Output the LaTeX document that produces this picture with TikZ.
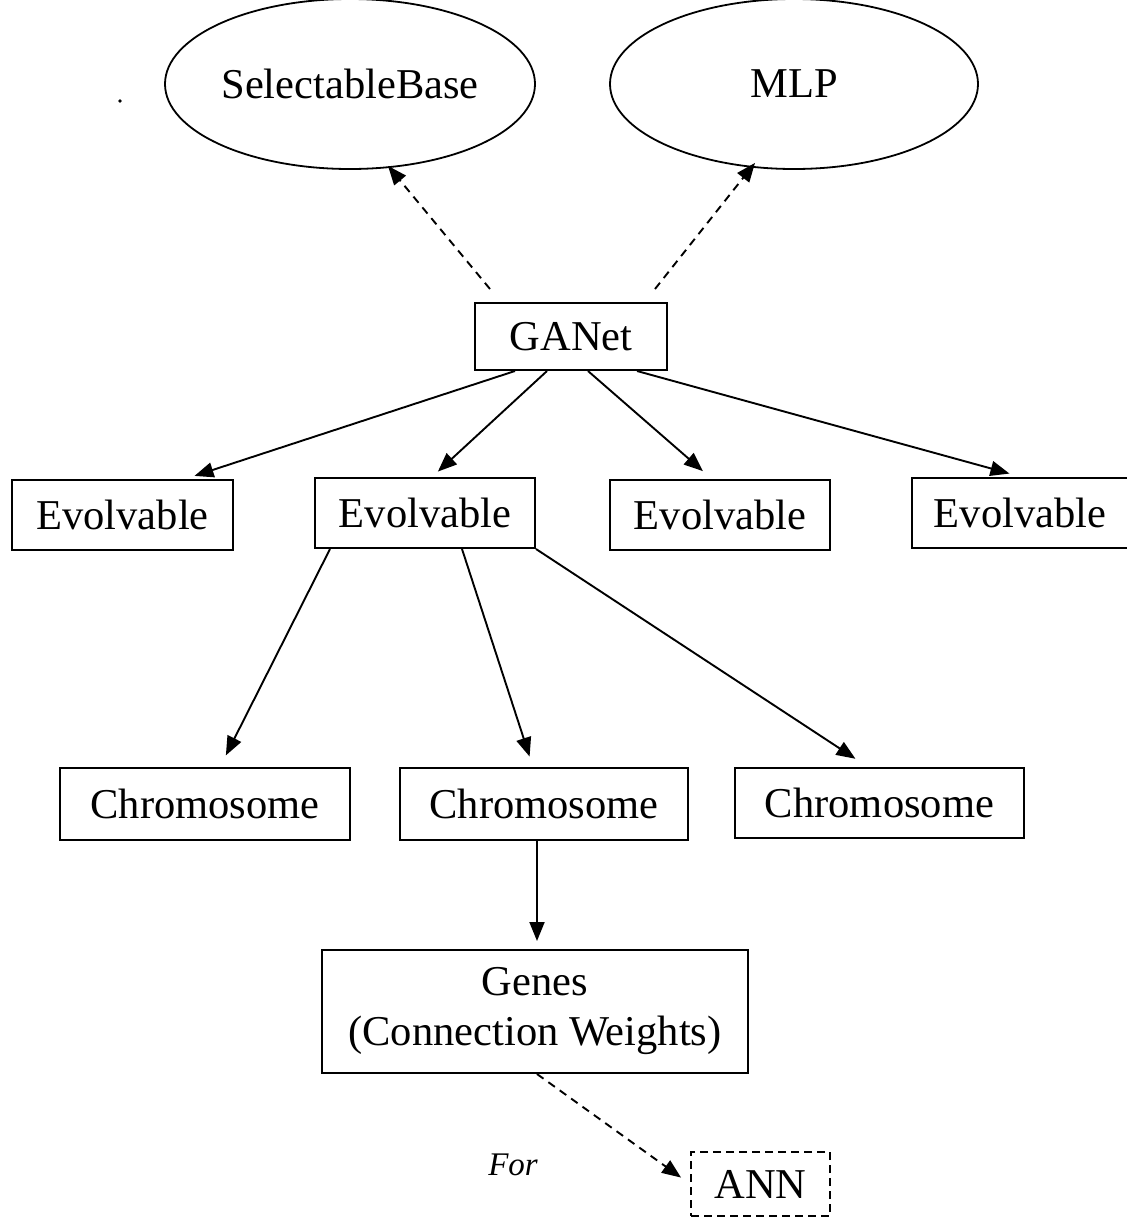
\documentclass[tikz,border=0pt]{standalone}
\usepackage{fontspec}
\setmainfont{Liberation Serif}
\usetikzlibrary{shapes.geometric,arrows.meta}
\begin{document}
\begin{tikzpicture}[x=1pt,y=-1pt,
  every node/.style={font=\fontsize{42.5}{50}\selectfont, inner sep=0pt},
  cls/.style={draw, line width=2pt, rectangle},
  oval/.style={draw, line width=1.8pt, ellipse},
  arr/.style={line width=1.9pt, -{Triangle[length=19pt,width=15pt]}},
  darr/.style={arr, dash pattern=on 8pt off 6pt},
]
\useasboundingbox (0,0) rectangle (1127,1219);

% base classes
\node[oval, minimum width=370, minimum height=170] (sb)  at (350,84) {SelectableBase};
\node[oval, minimum width=368, minimum height=170] (mlp) at (794,84) {MLP};
\fill (120,101) circle (1.8pt);

% network and its evolvables
\node[cls, minimum width=192, minimum height=67] (g) at (571,336.5) {GANet};
\node[cls, minimum width=221, minimum height=70] (e1) at (122.5,515) {Evolvable};
\node[cls, minimum width=220, minimum height=70] (e2) at (425,513) {Evolvable};
\node[cls, minimum width=220, minimum height=70] (e3) at (720,515) {Evolvable};
\node[cls, minimum width=216, minimum height=70] (e4) at (1020,513) {Evolvable};

% chromosomes
\node[cls, minimum width=290, minimum height=72] (c1) at (205,804) {Chromosome};
\node[cls, minimum width=288, minimum height=72] (c2) at (544,804) {Chromosome};
\node[cls, minimum width=289, minimum height=70] (c3) at (879.5,803) {Chromosome};

% genes and target
\node[cls, minimum width=426, minimum height=123, align=center] (gn) at (535,1011.5) {Genes\\(Connection Weights)};
\node[cls, dash pattern=on 8pt off 5pt, minimum width=139, minimum height=64] (ann) at (760.5,1184) {ANN};
\node[font=\fontsize{33}{38}\selectfont\itshape] (for) at (513,1165) {For};

% inheritance
\draw[darr] ([xshift=-81pt,yshift=13pt]g.north) -- ([xshift=38pt,yshift=4pt]sb.south);
\draw[darr] ([xshift=84pt,yshift=13pt]g.north) -- ([xshift=-39pt,yshift=7pt]mlp.south);

% composition
\draw[arr, shorten >=10pt] ([xshift=-56pt]g.south) -- ([xshift=62.5pt]e1.north);
\draw[arr, shorten >=8pt]  ([xshift=-24pt]g.south) -- ([xshift=7pt]e2.north);
\draw[arr, shorten >=12pt] ([xshift=17pt]g.south)  -- ([xshift=-8pt]e3.north);
\draw[arr, shorten >=13pt] ([xshift=66pt]g.south)  -- ([xshift=2pt]e4.north);

\draw[arr, shorten >=13pt] ([xshift=-95pt]e2.south) -- ([xshift=15pt]c1.north);
\draw[arr, shorten >=11pt] ([xshift=37pt]e2.south)  -- ([xshift=-11pt]c2.north);
\draw[arr, shorten >=15pt] (e2.south east)          -- ([xshift=-11.5pt]c3.north);

\draw[arr, shorten >=8pt] ([xshift=-7pt]c2.south) -- ([xshift=2pt]gn.north);
\draw[darr, shorten >=11pt] ([xshift=2pt]gn.south) -- (ann.west);
\end{tikzpicture}
\end{document}
